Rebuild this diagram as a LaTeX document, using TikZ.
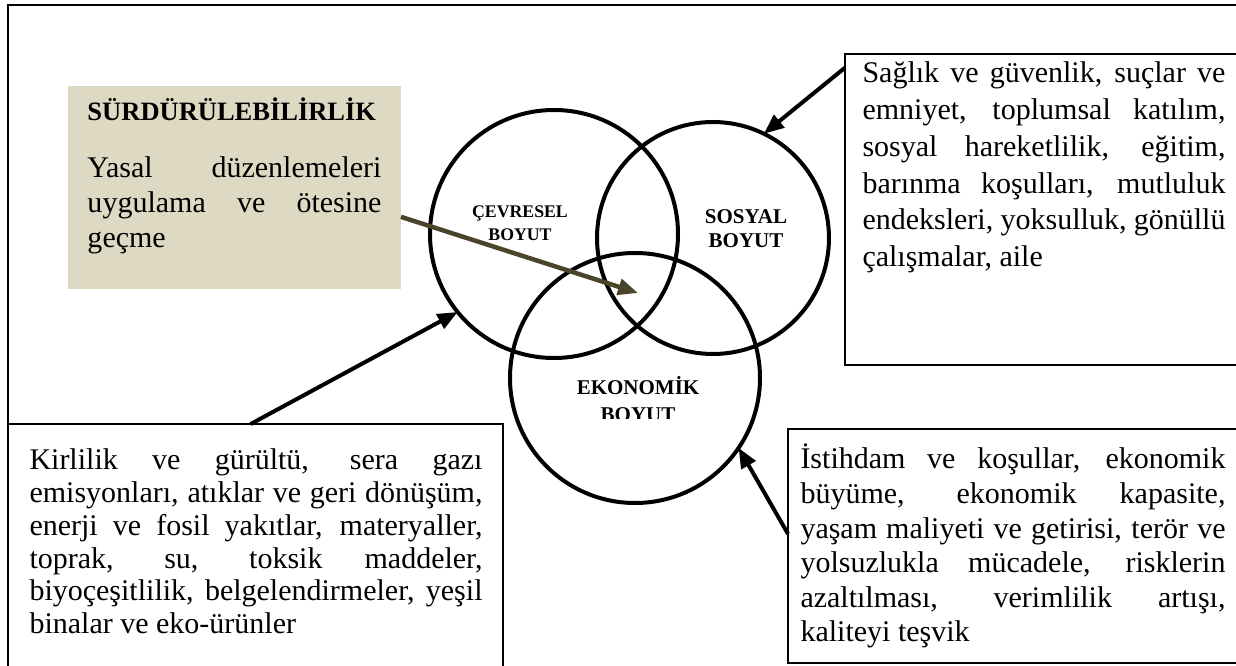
\documentclass[tikz,border=0pt]{standalone}
\usepackage{fontspec}
\setmainfont{Liberation Serif}
\usepackage{xcolor}
\definecolor{sandbox}{RGB}{221,217,195}
\definecolor{olivedark}{RGB}{74,69,42}
\usepackage{tikz}
\usetikzlibrary{arrows.meta}
\tikzset{
	venn/.style    = {circle,draw=black,line width=1.6pt,inner sep=0pt,
		outer sep=0pt},
	infobox/.style = {rectangle,draw=black,line width=0.9pt,inner sep=0pt,
		outer sep=0pt,anchor=north west},
	boxtext/.style = {anchor=base west,inner sep=0pt,align=justify},
	dimlabel/.style= {anchor=base,inner sep=0pt,align=center},
	arr/.style     = {-{Triangle[length=8pt,width=6.4pt]},line width=1.6pt,black},
	oarr/.style    = {-{Triangle[length=8pt,width=6.4pt]},line width=1.8pt,olivedark},
}
\hyphenpenalty=10000
\exhyphenpenalty=10000

\begin{document}
\begin{tikzpicture}[x=0.4pt,y=-0.4pt]
	\useasboundingbox (0,0) rectangle (1236,666);
	\clip (0,0) rectangle (1236,666);
	\fill[white] (0,0) rectangle (1236,666);
	%% outer frame, right and bottom sides run off the page
	\draw[line width=1pt] (8,5) rectangle (1250,700);
	
	\node (sust) [infobox,draw=none,fill=sandbox,minimum width=133.2pt,
	minimum height=81.2pt] at (68,86) {};
	\node (susttitle) [anchor=base west,inner sep=0pt,
	font=\fontsize{10.6pt}{12pt}\selectfont\bfseries] at (87,121)
	{SÜRDÜRÜLEBİLİRLİK};
	\node (susttxt) [boxtext,text width=117.6pt,
	font=\fontsize{12pt}{14pt}\selectfont] at (87,178)
	{Yasal düzenlemeleri\linebreak uygulama ve ötesine\linebreak geçme};
	
	\node (cenv) [venn,minimum size=99.2pt] at (554,234) {};
	\node (csoc) [venn,minimum size=92.8pt] at (713,238) {};
	\node (ceco) [venn,minimum size=100pt] at (635,378) {};
	\coordinate (core) at (638,293);
	
	%% base of these labels sits on their second line
	\node (lenv) [dimlabel,font=\fontsize{7.1pt}{9.2pt}\selectfont\bfseries]
	at (520,241) {ÇEVRESEL\\BOYUT};
	\node (lsoc) [dimlabel,font=\fontsize{8.4pt}{9.6pt}\selectfont\bfseries]
	at (746,248) {SOSYAL\\BOYUT};
	\begin{scope}
		\clip (560,360) rectangle (720,419);
		\node (leco) [dimlabel,font=\fontsize{8.4pt}{10.8pt}\selectfont\bfseries]
		at (638,422) {EKONOMİK\\BOYUT};
	\end{scope}
	
	\node (socbox) [infobox,minimum width=162pt,minimum height=124.4pt]
	at (845,54) {};
	\node (soctxt) [boxtext,text width=145.2pt,
	font=\fontsize{12pt}{14.7pt}\selectfont] at (862,83)
	{Sağlık ve güvenlik, suçlar ve\linebreak
		emniyet, toplumsal katılım,\linebreak
		sosyal hareketlilik, eğitim,\linebreak
		barınma koşulları, mutluluk\linebreak
		endeksleri, yoksulluk, gönüllü\linebreak
		çalışmalar, aile};
	
	\node (envbox) [infobox,minimum width=198pt,minimum height=110.4pt]
	at (8,424) {};
	\node (envtxt) [boxtext,text width=181.2pt,
	font=\fontsize{12pt}{13.1pt}\selectfont] at (29,470)
	{Kirlilik ve gürültü, sera gazı\linebreak
		emisyonları, atıklar ve geri dönüşüm,\linebreak
		enerji ve fosil yakıtlar, materyaller,\linebreak
		toprak, su, toksik maddeler,\linebreak
		biyoçeşitlilik, belgelendirmeler, yeşil\linebreak
		binalar ve eko-ürünler};
	
	\node (ecobox) [infobox,minimum width=184.8pt,minimum height=93.6pt]
	at (788,429) {};
	\node (ecotxt) [boxtext,text width=170pt,
	font=\fontsize{12pt}{13.8pt}\selectfont] at (800,469)
	{İstihdam ve koşullar, ekonomik\linebreak
		büyüme, ekonomik kapasite,\linebreak
		yaşam maliyeti ve getirisi, terör ve\linebreak
		yolsuzlukla mücadele, risklerin\linebreak
		azaltılması, verimlilik artışı,\linebreak
		kaliteyi teşvik};
	
	\draw[oarr] (sust.-10) -- (core);
	\draw[arr] (socbox.145) -- (csoc.64);
	\draw[arr] (envbox.92) -- (cenv.219);
	\draw[arr] (ecobox.177) -- (ceco.326);
\end{tikzpicture}
\end{document}
